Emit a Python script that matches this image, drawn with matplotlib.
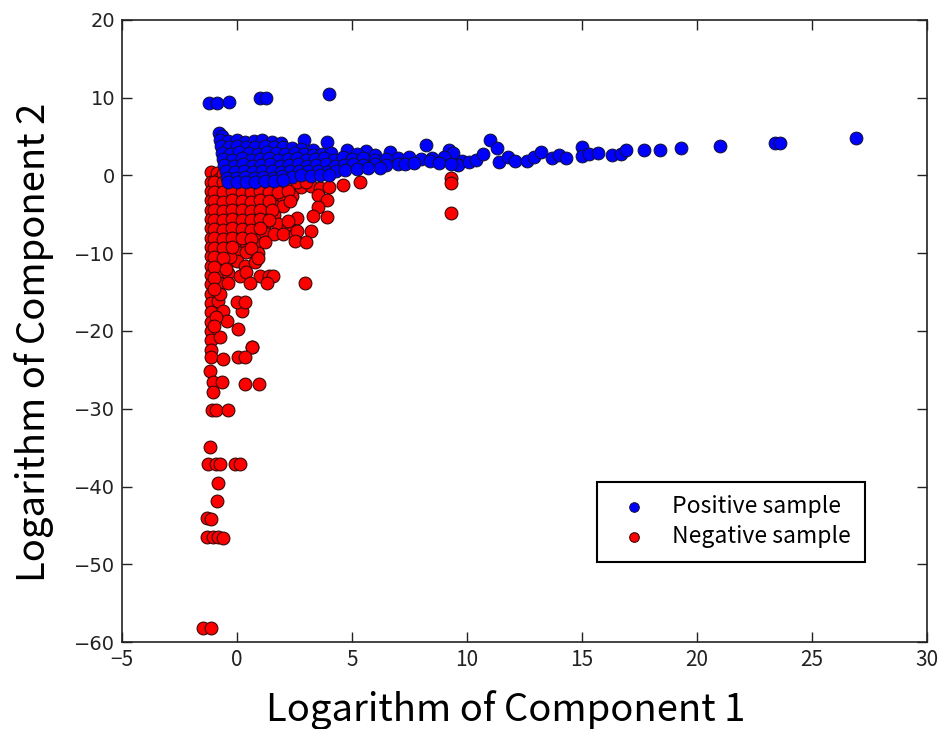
import matplotlib
matplotlib.use("Agg")
import matplotlib.pyplot as plt

# values (log component 1, log component 2)
pos_x = [-1.2, -0.85, -0.35, 1.0, 1.25, 4.0,
         -0.8, -0.65,
         -0.75, -0.4, 0.0, 0.35, 0.75, 1.1, 1.5, 1.9, 2.9, 3.9,
         -0.7, -0.35, 0.0, 0.4, 0.8, 1.2, 1.6, 2.0, 2.4, 2.8, 3.3,
         -0.65, -0.3, 0.1, 0.5, 0.9, 1.3, 1.7, 2.1, 2.5, 2.9, 3.3, 3.7, 4.1, 4.8, 5.6, 6.65, 5.2, 6.0,
         -0.6, -0.2, 0.2, 0.6, 1.0, 1.4, 1.8, 2.2, 2.6, 3.0, 3.4, 3.8, 4.2, 4.6, 5.0, 5.5, 6.0, 6.5,
         7.0, 7.5, 8.0, 8.2, 8.5, 9.2, 9.4, 9.0, 9.8,
         -0.55, -0.15, 0.25, 0.65, 1.05, 1.45, 1.85, 2.25, 2.65, 3.05, 3.45, 3.85, 4.25, 4.65, 5.05,
         5.5, 6.0, 6.5, 7.0, 7.3, 7.7, 8.4, 8.8, 9.6,
         -0.5, -0.1, 0.3, 0.7, 1.1, 1.5, 1.9, 2.3, 2.7, 3.1, 3.5, 3.9, 4.3, 4.7, 5.2, 5.7, 6.2,
         -0.45, -0.05, 0.35, 0.75, 1.15, 1.55, 1.95, 2.4, 2.8, 3.2, 3.6, 4.0,
         -0.4, 0.0, 0.4, 0.8, 1.2, 1.6, 2.0,
         9.3, 10.1, 10.4, 10.7, 11.0, 11.3, 11.4, 11.8, 12.1, 12.6, 12.9, 13.2, 13.7, 14.0, 14.3,
         15.0, 15.0, 15.3, 15.7, 16.3, 16.7, 16.9, 17.7, 18.4, 19.3, 21.0, 23.4, 23.6, 26.9]
pos_y = [9.3, 9.3, 9.4, 9.9, 9.9, 10.5,
         5.5, 5.1,
         4.6, 4.4, 4.5, 4.3, 4.4, 4.5, 4.3, 4.1, 4.5, 4.3,
         3.8, 3.6, 3.8, 3.7, 3.6, 3.8, 3.6, 3.7, 3.5, 3.4, 3.2,
         2.9, 2.8, 3.0, 2.9, 2.8, 3.0, 2.9, 2.8, 2.9, 2.7, 2.6, 2.7, 2.9, 3.2, 3.1, 3.0, 2.7, 2.6,
         2.1, 2.0, 2.2, 2.0, 2.1, 2.2, 2.0, 2.1, 2.2, 2.0, 2.1, 2.2, 2.0, 2.3, 2.1, 2.2, 2.0, 2.1,
         2.2, 2.3, 2.1, 3.9, 2.2, 3.2, 2.9, 2.3, 1.9,
         1.3, 1.2, 1.4, 1.2, 1.3, 1.4, 1.2, 1.3, 1.4, 1.2, 1.3, 1.4, 1.2, 1.3, 1.4,
         1.3, 1.4, 1.3, 1.5, 1.4, 1.6, 1.9, 1.6, 1.3,
         0.5, 0.4, 0.6, 0.4, 0.5, 0.6, 0.4, 0.5, 0.6, 0.5, 0.6, 0.4, 0.6, 0.7, 0.8, 0.9, 1.0,
         -0.3, -0.4, -0.2, -0.3, -0.2, -0.3, -0.1, -0.2, 0.0, -0.1, 0.1, 0.0,
         -0.9, -0.9, -0.8, -0.8, -0.7, -0.7, -0.6,
         1.5, 1.7, 2.0, 2.7, 4.6, 3.5, 1.7, 2.3, 1.9, 1.9, 2.4, 3.0, 2.2, 2.6, 2.2,
         3.6, 2.5, 2.7, 2.9, 2.6, 2.7, 3.2, 3.3, 3.3, 3.5, 3.8, 4.1, 4.2, 4.8]

neg_x = [-1.15, -1.15, -1.15, -1.15, -1.15, -1.15, -1.15, -1.15, -1.15, -1.15, -1.15,
         -1.15, -1.15, -1.15, -1.15, -1.15, -1.15, -1.15, -1.15, -1.15, -1.15, -1.17,
         -0.85, -0.8, -0.6,
         -0.8, -0.4, 0.0, 0.4, 0.8, 1.2, 1.6, 2.0, 2.4, 2.8, 3.2, 3.6, 4.0, 4.6, 5.35,
         -0.8, -0.4, 0.0, 0.4, 0.8, 1.2, 1.6, 2.0, 2.4, 3.5, 3.9,
         -0.8, -0.4, 0.0, 0.4, 0.8, 1.2, 1.6, 2.0, 3.5,
         -0.8, -0.4, 0.0, 0.4, 0.8, 1.2, 1.6, 2.6, 3.3, 3.9,
         -0.8, -0.4, 0.0, 0.4, 0.8, 1.2, 1.8, 2.2,
         -0.8, -0.4, 0.0, 0.4, 0.8, 1.2, 1.6, 2.0, 2.5, 2.6, 3.2,
         -0.8, -0.4, 0.0, 0.4, 0.8, 1.2, 2.5, 3.0,
         -0.8, -0.4, 0.0, 0.4, 0.9,
         -0.8, -0.4, 0.0, 0.35, 0.8,
         -0.8, -0.4, 0.13, 0.4, 1.0, 1.4, 1.57,
         -0.8, -0.39, 0.57, 1.3, 2.96, -0.3,
         -0.83, -0.6, 0.2, 0.0, 0.35, -0.43, 0.04, -0.74, 0.65, -0.74,
         0.65, 0.04, 0.35, -0.6, -1.04, -0.65, 0.35, 0.96, -1.04,
         -1.09, -0.9, -0.39, -1.17, -1.26, -0.9, -0.74, -0.09, 0.13,
         -0.83, -0.87, -1.3, -1.13, -1.3, -1.04, -0.83, -0.6, -1.48, -1.13,
         9.3, 9.3, 9.3,
         # in-between fill of the dense red block
         -1.0, -0.6, -0.2, 0.2, 0.6, 1.0, 1.4, 1.8, 2.2, 2.6, 3.0,
         -1.0, -0.6, -0.2, 0.2, 0.6, 1.0, 1.4, 1.8, 2.2,
         -1.0, -0.6, -0.2, 0.2, 0.6, 1.0, 1.4, 2.3,
         -1.0, -0.6, -0.2, 0.2, 0.6, 1.0, 1.5,
         -1.0, -0.6, -0.2, 0.2, 0.6, 1.0, 1.4, 2.2,
         -1.0, -0.6, -0.2, 0.2, 0.6, 1.0,
         -1.0, -0.6, -0.2, 0.2, 0.6,
         -1.0, -0.6, -0.2, 0.6,
         -1.0, -0.6, 0.9,
         -1.0, -0.5, -1.0, -1.0, -0.9, -1.0]
neg_y = [0.4, -0.8, -2.0, -3.2, -4.4, -5.6, -6.8, -8.0, -9.2, -10.4, -11.6,
         -12.8, -14.0, -15.2, -16.4, -17.6, -18.8, -20.0, -21.2, -22.4, -23.4, -25.1,
         0.3, -0.5, 0.2,
         -1.5, -1.6, -1.4, -1.5, -1.6, -1.4, -1.5, -1.6, -1.4, -1.5, -1.4, -1.6, -1.5, -1.3, -0.9,
         -2.7, -2.8, -2.6, -2.7, -2.8, -2.6, -2.7, -2.8, -2.7, -2.5, -3.2,
         -3.9, -4.0, -3.8, -3.9, -4.0, -3.8, -3.9, -4.0, -4.1,
         -5.1, -5.2, -5.0, -5.1, -5.2, -5.0, -5.1, -5.5, -5.2, -5.4,
         -6.3, -6.4, -6.2, -6.3, -6.4, -6.2, -6.3, -6.6,
         -7.5, -7.6, -7.4, -7.5, -7.6, -7.4, -7.5, -7.6, -7.5, -7.1, -7.1,
         -8.7, -8.8, -8.6, -8.7, -8.8, -8.6, -8.4, -8.6,
         -9.9, -10.0, -9.8, -9.9, -10.0,
         -11.1, -11.2, -11.0, -11.6, -11.1,
         -12.5, -12.6, -12.9, -12.4, -12.9, -12.9, -12.9,
         -13.9, -13.9, -13.9, -13.9, -13.9, -10.5,
         -16.1, -17.4, -17.4, -16.3, -16.3, -18.7, -19.7, -20.8, -22.1, -15.2,
         -22.1, -23.4, -23.3, -23.6, -26.6, -26.6, -26.8, -26.8, -27.9,
         -30.1, -30.1, -30.2, -34.9, -37.1, -37.1, -37.1, -37.1, -37.1,
         -39.5, -41.8, -44.0, -44.2, -46.5, -46.5, -46.5, -46.6, -58.2, -58.2,
         -0.4, -1.0, -4.9,
         -0.9, -0.8, -0.9, -0.8, -0.9, -0.8, -0.9, -0.8, -0.9, -0.8, -0.9,
         -2.1, -2.2, -2.0, -2.1, -2.2, -2.0, -2.1, -2.2, -2.0,
         -3.3, -3.4, -3.2, -3.3, -3.4, -3.2, -3.3, -3.3,
         -4.5, -4.6, -4.4, -4.5, -4.6, -4.4, -4.5,
         -5.7, -5.8, -5.6, -5.7, -5.8, -5.6, -5.7, -5.9,
         -6.9, -7.0, -6.8, -6.9, -7.0, -6.8,
         -8.1, -8.2, -8.0, -8.1, -8.2,
         -9.3, -9.4, -9.2, -9.3,
         -10.5, -10.6, -10.6,
         -11.8, -12.0, -13.2, -14.6, -18.2, -19.4]

x_ticks = [-5, 0, 5, 10, 15, 20, 25, 30]
y_ticks = [-60, -50, -40, -30, -20, -10, 0, 10, 20]

fig = plt.figure(figsize=(9.39, 7.29), dpi=100)
ax = fig.add_axes([0.130, 0.119, 0.857, 0.854])

ax.scatter(pos_x, pos_y, s=85, c='#0000ff', edgecolors='#101030', linewidths=0.7,
           zorder=3, label='Positive sample')
ax.scatter(neg_x, neg_y, s=85, c='#ff0000', edgecolors='#3a0808', linewidths=0.8,
           zorder=2, label='Negative sample')

ax.set_xlim(-5, 30)
ax.set_ylim(-60, 20)
ax.set_xticks(x_ticks)
ax.set_yticks(y_ticks)
ax.set_xticklabels([str(t).replace('-', '\u2212') for t in x_ticks],
                   family=['Noto Sans CJK KR', 'DejaVu Sans'], fontsize=15)
ax.set_yticklabels([str(t).replace('-', '\u2212') for t in y_ticks],
                   family='DejaVu Sans', fontsize=14)
ax.tick_params(direction='in', top=True, right=True, length=7, width=1, pad=5, colors='#222222')
for sp in ax.spines.values():
    sp.set_linewidth(1.2)
    sp.set_color('#222222')

ax.set_xlabel('Logarithm of Component 1', family='Noto Sans CJK KR', fontsize=27.5)
ax.set_ylabel('Logarithm of Component 2', family='Noto Sans CJK KR', fontsize=27.5)
ax.xaxis.set_label_coords(0.477, -0.077)
ax.yaxis.set_label_coords(-0.085, 0.482)

leg = ax.legend(loc='lower left', bbox_to_anchor=(0.59, 0.129), borderaxespad=0,
                scatterpoints=1, fancybox=False, framealpha=1, edgecolor='black',
                prop={'family': 'Noto Sans CJK KR', 'size': 16.5},
                handletextpad=0.7, borderpad=0.6, labelspacing=0.3, markerscale=0.75)
leg.get_frame().set_linewidth(1.5)

fig.savefig('out.png', dpi=100)
